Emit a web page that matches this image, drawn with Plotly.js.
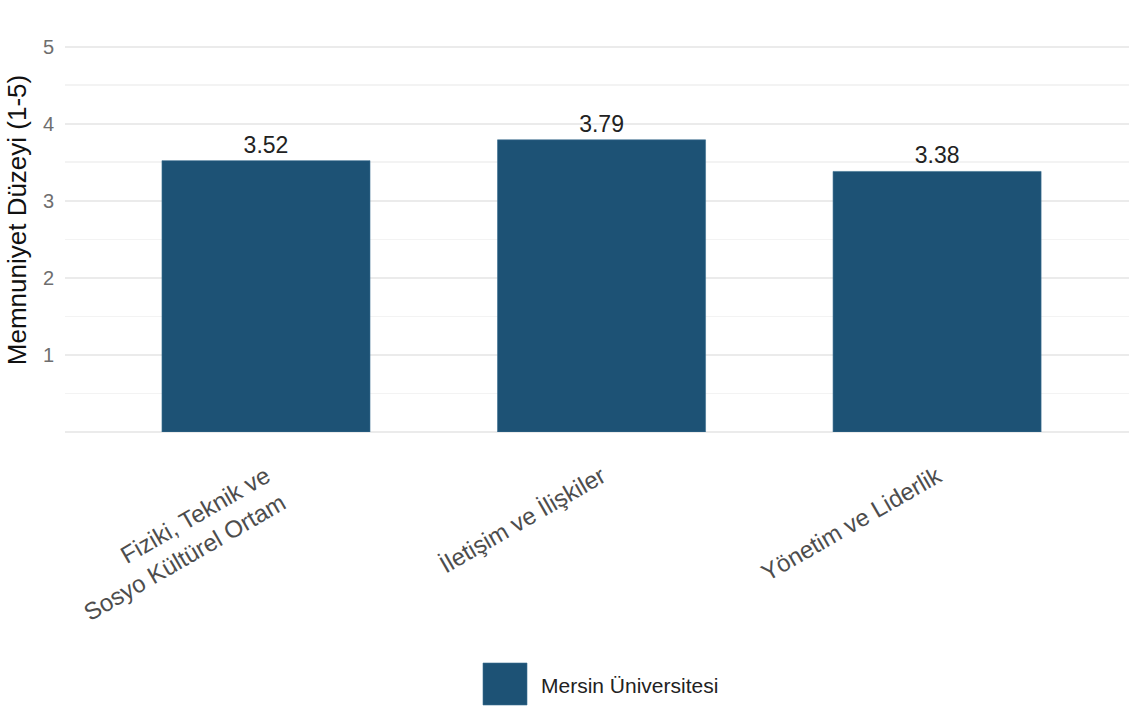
<!DOCTYPE html>
<html>
<head>
<meta charset="utf-8">
<script src="https://cdn.plot.ly/plotly-3.0.1.min.js"></script>
<style>html,body{margin:0;padding:0;background:#fff;}#chart{width:1129px;height:709px;}</style>
</head>
<body>
<div id="chart"></div>
<script>
const categories = ["Fiziki, Teknik ve<br>Sosyo Kültürel Ortam", "İletişim ve İlişkiler", "Yönetim ve Liderlik"];
const values = [3.52, 3.79, 3.38];
const seriesName = "Mersin Üniversitesi";
const yTickVals = [1, 2, 3, 4, 5];
const barColor = "#1d5275";

const trace = {
  type: "bar",
  x: categories,
  y: values,
  name: seriesName,
  width: 0.62,
  marker: {color: barColor, line: {color: "#3b6f91", width: 0.6}},
  text: values.map(v => v.toFixed(2)),
  textposition: "outside",
  cliponaxis: false,
  textfont: {family: "Liberation Sans, Arial, sans-serif", size: 23, color: "#222"},
  showlegend: false,
  hoverinfo: "skip"
};

const layout = {
  width: 1129, height: 709,
  margin: {l: 65, r: 0, t: 8, b: 277},
  paper_bgcolor: "#fff", plot_bgcolor: "#fff",
  font: {family: "Liberation Sans, Arial, sans-serif", color: "#4d4d4d"},
  xaxis: {
    range: [-0.599, 2.572],
    tickangle: -30,
    tickfont: {size: 24, color: "#4d4d4d"},
    showgrid: false, zeroline: false, showline: false,
    ticks: "", ticklabelstandoff: 25
  },
  yaxis: {
    range: [0, 5.5],
    tickvals: yTickVals,
    ticktext: yTickVals.map(String),
    tickfont: {size: 20, color: "#6e6e6e"},
    gridcolor: "#ebebeb", gridwidth: 2,
    minor: {dtick: 0.5, tick0: 0, showgrid: true, gridcolor: "#f3f3f3", gridwidth: 1.5},
    zeroline: true, zerolinecolor: "#ebebeb", zerolinewidth: 2,
    showline: false, ticks: "", ticklabelstandoff: 10,
    title: {text: "Memnuniyet Düzeyi (1-5)", font: {size: 26, color: "#111"}, standoff: 8}
  },
  shapes: [{
    type: "rect", xref: "paper", yref: "paper",
    x0: (483 - 65) / 1064, x1: (527 - 65) / 1064,
    y0: -(663 - 432) / 424, y1: -(705 - 432) / 424,
    fillcolor: barColor, line: {color: "#3b6f91", width: 0.6}
  }],
  annotations: [{
    xref: "paper", yref: "paper",
    x: (539 - 65) / 1064, y: -(685 - 432) / 424,
    xanchor: "left", yanchor: "middle", showarrow: false,
    text: seriesName,
    font: {size: 21, color: "#222"}
  }],
  hovermode: false
};

Plotly.newPlot("chart", [trace], layout, {displayModeBar: false, staticPlot: true});
</script>
</body>
</html>
